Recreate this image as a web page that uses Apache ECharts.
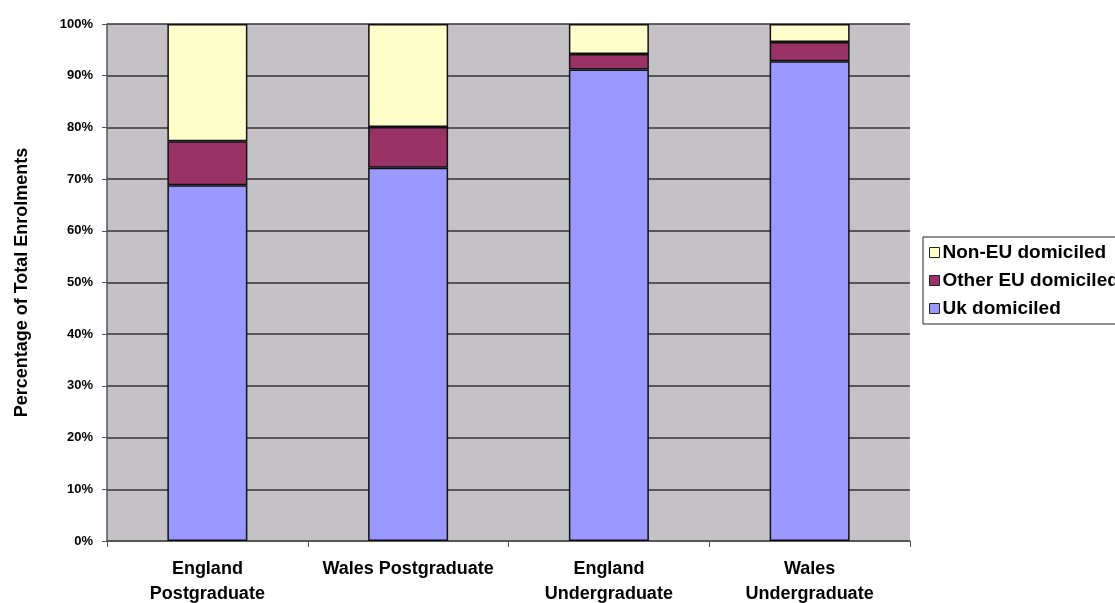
<!DOCTYPE html>
<html>
<head>
<meta charset="utf-8">
<script src="https://cdn.jsdelivr.net/npm/echarts@6/dist/echarts.min.js"></script>
<style>
  html, body { margin: 0; padding: 0; background: #fff; }
  #chart { width: 1115px; height: 603px; }
</style>
</head>
<body>
<div id="chart"></div>
<script>
  const categories = ["England\nPostgraduate", "Wales Postgraduate", "England\nUndergraduate", "Wales\nUndergraduate"];
  const ukDomiciled = [68.8, 72.2, 91.2, 92.8];
  const otherEu = [8.5, 7.9, 3.0, 3.7];
  const nonEu = [22.7, 19.9, 5.8, 3.5];
  const yTicks = [0, 10, 20, 30, 40, 50, 60, 70, 80, 90, 100];

  const FONT = "Liberation Sans, Arial, sans-serif";
  const barBorder = { borderColor: "#111", borderWidth: 1.5 };

  function barSeries(name, data, color) {
    return {
      name,
      type: "bar",
      stack: "total",
      barWidth: 80,
      data,
      itemStyle: Object.assign({ color }, barBorder),
    };
  }

  const chart = echarts.init(document.getElementById("chart"), null, { renderer: "canvas" });
  chart.setOption({
    animation: false,
    textStyle: { fontFamily: FONT },
    grid: {
      left: 107, top: 24, width: 803, height: 517,
      outerBoundsMode: "none",
      containLabel: false,
      show: true, backgroundColor: "#c4c2c6", borderWidth: 0,
    },
    legend: {
      orient: "vertical",
      left: 923, top: 237,
      padding: [6, 40, 6, 6],
      itemGap: 9,
      itemWidth: 10, itemHeight: 10,
      icon: "rect",
      itemStyle: { borderColor: "#222", borderWidth: 1 },
      backgroundColor: "#fff",
      borderColor: "#222", borderWidth: 1, borderRadius: 0,
      textStyle: {
        fontSize: 19, fontWeight: "bold", color: "#000", fontFamily: FONT,
        padding: [0, 0, 0, -2],
      },
      data: ["Non-EU domiciled", "Other EU domiciled", "Uk domiciled"],
    },
    xAxis: {
      type: "category",
      data: categories,
      axisLine: { lineStyle: { color: "#555", width: 1.5 } },
      axisTick: { show: true, length: 6, lineStyle: { color: "#555" } },
      axisLabel: {
        fontSize: 18, fontWeight: "bold", color: "#000", margin: 16, lineHeight: 25,
        interval: 0, fontFamily: FONT,
      },
      splitLine: { show: false },
    },
    yAxis: {
      type: "value",
      min: yTicks[0], max: yTicks[yTicks.length - 1], interval: 10,
      name: "Percentage of Total Enrolments",
      nameLocation: "middle",
      nameGap: 76,
      nameTextStyle: { fontSize: 18, fontWeight: "bold", color: "#000", fontFamily: FONT },
      axisLine: { show: true, lineStyle: { color: "#555", width: 1.5 } },
      axisTick: { show: true, length: 5, lineStyle: { color: "#555" } },
      axisLabel: {
        fontSize: 13, fontWeight: "bold", color: "#000", margin: 14,
        formatter: v => v + "%",
      },
      splitLine: { show: true, lineStyle: { color: "#333", width: 1.5 } },
    },
    series: [
      barSeries("Uk domiciled", ukDomiciled, "#9999ff"),
      barSeries("Other EU domiciled", otherEu, "#993366"),
      barSeries("Non-EU domiciled", nonEu, "#ffffcc"),
    ],
  });
</script>
</body>
</html>
